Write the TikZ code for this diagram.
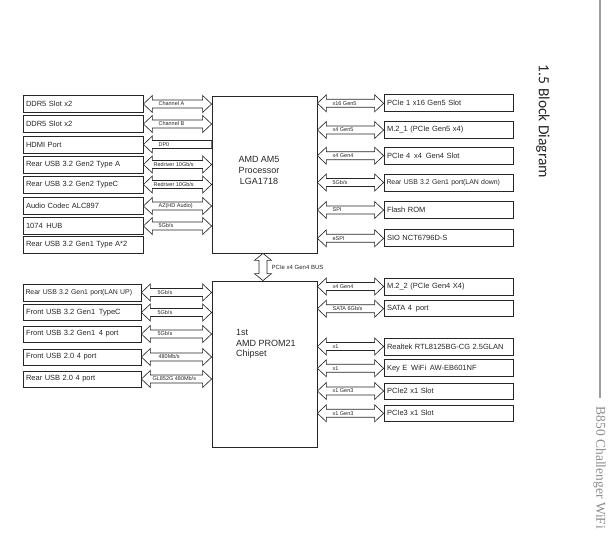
\documentclass[tikz,border=0pt]{standalone}
\usepackage{fontspec}
\setmainfont{Liberation Sans}
\newfontfamily\carlito{Carlito}
\newfontfamily\lserif{Liberation Serif}
\usetikzlibrary{calc}
\definecolor{ink}{gray}{0.15}
\definecolor{rulegray}{gray}{0.62}
\definecolor{namegray}{gray}{0.55}
\newcommand{\dblarr}[2]{\draw[barrow] (#1) -- ++(9,-8.5) -- ++(0,4.5) -- ($(#2)+(-9,-4)$) -- ++(0,-4.5) -- (#2) -- ++(-9,8.5) -- ++(0,-4.5) -- ($(#1)+(9,4)$) -- ++(0,4.5) -- cycle;}
\newcommand{\leftlink}[4]{\coordinate (#1tip) at (#2.west |- #1.east); \dblarr{#1.east}{#1tip} \node[alab] (#1lab) at ($(#1.east)+(#4,0)$) {#3};}
\newcommand{\rightlink}[4]{\coordinate (#1tip) at (#2.east |- #1.west); \dblarr{#1tip}{#1.west} \node[alab] (#1lab) at ($(#1tip)+(#4,0)$) {#3};}
\begin{document}
\begin{tikzpicture}[x=1pt,y=-1pt,
  box/.style={draw=ink, line width=0.8pt, inner xsep=3pt, inner ysep=0pt, minimum height=17pt, text width=#1, align=left, font=\fontsize{7.5}{9}\selectfont, text=ink},
  narrow/.style={font=\fontsize{6.9}{9}\selectfont, inner xsep=2.5pt, text width=#1},
  chipbox/.style={draw=ink, line width=0.8pt, inner sep=0pt},
  chiptext/.style={inner sep=0pt, font=\fontsize{9}{10.8}\selectfont, text=ink},
  barrow/.style={draw=ink, line width=0.65pt, fill=white, line join=miter},
  alab/.style={font=\fontsize{5.5}{6}\selectfont, inner sep=0pt, anchor=west, text=ink}]
\useasboundingbox (0,0) rectangle (609,545);

% chips
\node[chipbox, minimum width=105pt, minimum height=157pt] (cpu) at (264.5,174.5) {};
\node[chiptext, align=center] (cputxt) at (259,170.5) {AMD AM5\\Processor\\LGA1718};
\node[chipbox, minimum width=105pt, minimum height=166pt] (chip) at (264.5,364) {};
\node[chiptext, align=left, anchor=west] (chiptxt) at (236,344) {1st\\AMD PROM21\\Chipset};

% left top boxes
\node[box=114pt] (dda) at (83,104) {DDR5 Slot x2};
\node[box=114pt] (ddb) at (83,124) {DDR5 Slot x2};
\node[box=114pt] (hdmi) at (83,144.5) {HDMI Port};
\node[box=114pt] (gta) at (83,164.5) {Rear USB 3.2 Gen2 Type A};
\node[box=114pt] (gtc) at (83,184.5) {Rear USB 3.2 Gen2 TypeC};
\node[box=114pt] (audio) at (83,206) {Audio Codec ALC897};
\node[box=114pt] (hub) at (83,226) {1074 \,HUB};
\node[box=114pt] (goa) at (83,244.5) {Rear USB 3.2 Gen1 Type A*2};

% right top boxes
\node[box=123pt] (pcia) at (448.5,103.3) {PCIe 1 x16 Gen5 Slot};
\node[box=123pt] (mda) at (448.5,130) {M.2\_1 (PCIe Gen5 x4)};
\node[box=123pt] (pcid) at (448.5,155.7) {PCIe 4 \,x4 \,Gen4 Slot};
\node[box=123pt, narrow=124pt] (usbr) at (448.5,182.5) {Rear USB 3.2 Gen1 port(LAN down)};
\node[box=123pt] (flash) at (448.5,210) {Flash ROM};
\node[box=123pt] (sio) at (448.5,238.3) {SIO NCT6796D-S};

% bottom left boxes
\node[box=112pt, narrow=113pt] (lanup) at (82,292.5) {Rear USB 3.2 Gen1 port(LAN UP)};
\node[box=112pt, minimum height=16pt] (ftc) at (82,312.5) {Front USB 3.2 Gen1 \,TypeC};
\node[box=112pt, minimum height=16pt] (ffour) at (82,334) {Front USB 3.2 Gen1 \,4 port};
\node[box=112pt, minimum height=16pt] (ftwo) at (82,357) {Front USB 2.0 4 port};
\node[box=112pt, minimum height=16pt] (rtwo) at (82,379) {Rear USB 2.0 4 port};

% bottom right boxes
\node[box=123pt] (mdb) at (448.5,286.5) {M.2\_2 (PCIe Gen4 X4)};
\node[box=123pt, minimum height=16pt] (sata) at (448.5,308.7) {SATA 4 \,port};
\node[box=123pt] (rtl) at (448.5,346.5) {Realtek RTL8125BG-CG 2.5GLAN};
\node[box=123pt] (keye) at (448.5,368.3) {Key E \,WiFi \,AW-EB601NF};
\node[box=123pt, minimum height=16pt] (pcib) at (448.5,391) {PCIe2 x1 Slot};
\node[box=123pt, minimum height=16pt] (pcic) at (448.5,413.3) {PCIe3 x1 Slot};

% left top links
\leftlink{dda}{cpu}{Channel A}{15}
\leftlink{ddb}{cpu}{Channel B}{15}
\coordinate (hdmitip) at (cpu.west |- hdmi.east);
\draw[barrow] (hdmi.east) -- ++(9,-8.5) -- ++(0,4.5) -- ($(hdmitip)+(0,-4)$) -- ($(hdmitip)+(0,4)$) -- ($(hdmi.east)+(9,4)$) -- ++(0,4.5) -- cycle;
\node[alab] (hdmilab) at ($(hdmi.east)+(15,0)$) {DP0};
\leftlink{gta}{cpu}{Redriver 10Gb/s}{10}
\leftlink{gtc}{cpu}{Redriver 10Gb/s}{10}
\leftlink{audio}{cpu}{AZ(HD Audio)}{15}
\leftlink{hub}{cpu}{5Gb/s}{15}

% right top links
\rightlink{pcia}{cpu}{x16 Gen5}{15}
\rightlink{mda}{cpu}{x4 Gen5}{15}
\rightlink{pcid}{cpu}{x4 Gen4}{15}
\rightlink{usbr}{cpu}{5Gb/s}{15}
\rightlink{flash}{cpu}{SPI}{15}
\rightlink{sio}{cpu}{eSPI}{15}

% bottom left links
\leftlink{lanup}{chip}{5Gb/s}{16}
\leftlink{ftc}{chip}{5Gb/s}{16}
\leftlink{ffour}{chip}{5Gb/s}{16}
\leftlink{ftwo}{chip}{480Mb/s}{17}
\leftlink{rtwo}{chip}{GL852G 480Mb/s}{11}

% bottom right links
\rightlink{mdb}{chip}{x4 Gen4}{15}
\rightlink{sata}{chip}{SATA 6Gb/s}{15}
\rightlink{rtl}{chip}{x1}{15}
\rightlink{keye}{chip}{x1}{15}
\rightlink{pcib}{chip}{x1 Gen3}{15}
\rightlink{pcic}{chip}{x1 Gen3}{15}

% bus
\coordinate (bustop) at ($(cpu.south)+(-1.5,0)$);
\coordinate (busbot) at (bustop |- chip.north);
\draw[barrow] (bustop) -- ++(8.5,7) -- ++(-4.5,0) -- ($(busbot)+(4,-7)$) -- ++(4.5,0) -- (busbot) -- ++(-8.5,-7) -- ++(4.5,0) -- ($(bustop)+(-4,7)$) -- ++(-4.5,0) -- cycle;
\node[alab, font=\fontsize{6}{7}\selectfont] (buslab) at (271.5,267) {PCIe x4 Gen4 BUS};

% side titles
\node[rotate=-90, inner sep=0pt, font=\carlito\fontsize{15.5}{18}\selectfont, text=ink] (title) at (543,121.5) {1.5 Block Diagram};
\coordinate (ruletop) at (600,0);
\coordinate (rulebot) at (600,398);
\draw[rulegray, line width=1.2pt] (ruletop) -- (rulebot);
\node[rotate=-90, inner sep=0pt, font=\lserif\fontsize{13.5}{16}\selectfont, text=namegray] (model) at (599.5,468) {B850 Challenger WiFi};
\end{tikzpicture}
\end{document}
